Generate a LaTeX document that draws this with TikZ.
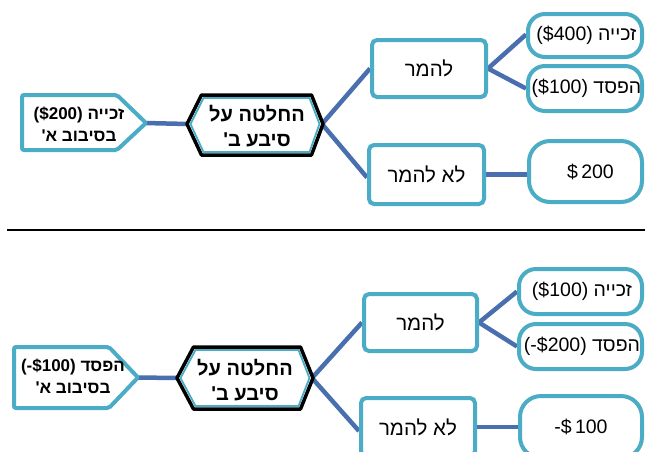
\documentclass[tikz,border=0pt]{standalone}
\usepackage{fontspec}
\setmainfont{Liberation Sans}
\newfontfamily\heb[Script=Hebrew]{Liberation Sans}
\newfontfamily\lat{Liberation Sans}
\TeXXeTstate=1
\usetikzlibrary{backgrounds}
\definecolor{aqua}{HTML}{4BACC6}
\definecolor{linkblue}{HTML}{4A6FAE}
\newcommand{\ltr}[1]{\beginL{\lat #1}\endL}
\tikzset{
  choice/.style={draw=aqua, line width=4pt, fill=white, rounded corners=5pt,
    inner sep=0pt, font=\heb\fontsize{20.5}{24}\selectfont},
  payoff/.style={choice, rounded corners=17pt, font=\heb\fontsize{19.5}{24}\selectfont},
  edge/.style={draw=linkblue, line width=4.5pt},
  startbox/.style={draw=aqua, line width=4pt, fill=white, rounded corners=2pt},
  hexouter/.style={draw=black, line width=3.5pt, fill=white, line join=round},
  hexinner/.style={draw=aqua, line width=1.8pt},
  starttext/.style={align=center, font=\heb\bfseries\fontsize{17}{22}\selectfont},
  hextext/.style={align=center, font=\heb\bfseries\fontsize{20}{25}\selectfont},
  rule/.style={draw=black, line width=2pt}
}
\begin{document}
\begin{tikzpicture}[x=1pt, y=-1pt]
\useasboundingbox (0,0) rectangle (645,451);
\clip (0,0) rectangle (645,451);

% ---------- upper tree: round one won ----------
\draw[startbox] (22,95) -- (117,95) -- (146,123) -- (117,150) -- (22,150) -- cycle;
\coordinate (s1) at (145,123);
\node[starttext] (s1t) at (79,124)
  {\beginR זכייה \ltr{(\$200)}\endR\\\beginR בסיבוב א'\endR};

\draw[hexouter] (187,124) -- (201.5,95) -- (311.5,95) -- (323,124) -- (311.5,155) -- (201.5,155) -- cycle;
\draw[hexinner] (190.5,124) -- (203.5,98) -- (309.5,98) -- (319.5,124) -- (309.5,152) -- (203.5,152) -- cycle;
\coordinate (h1l) at (188,124);
\coordinate (h1r) at (322,124);
\node[hextext] (h1t) at (257,126)
  {\beginR החלטה על\endR\\\beginR סיבע ב'\endR};

\node[choice, minimum width=114pt, minimum height=57pt] (bet1) at (429,68.5) {\beginR להמר\endR};
\node[choice, minimum width=115pt, minimum height=59pt] (nobet1) at (426.5,174.5) {\beginR לא להמר\endR};
\node[payoff, minimum width=114pt, minimum height=43pt] (win1) at (585,35.5)
  {\hspace*{3pt}\beginR זכייה \ltr{(\$400)}\endR};
\node[payoff, minimum width=114pt, minimum height=45pt] (lose1) at (585,88.5)
  {\hspace*{3pt}\beginR הפסד \ltr{(\$100)}\endR};
\node[payoff, rounded corners=21pt, minimum width=113pt, minimum height=61pt] (keep1) at (585.5,171.5)
  {\hspace*{10pt}\lat\$\,200};

\begin{scope}[on background layer]
  \draw[edge] (s1) -- (h1l);
  \draw[edge] (h1r) -- (bet1.west);
  \draw[edge] (h1r) -- ([yshift=-3pt]nobet1.west);
  \draw[edge] (bet1.east) -- ([yshift=1pt]win1.west);
  \draw[edge] (bet1.east) -- (lose1.west);
  \draw[edge] (nobet1.east) -- (nobet1.east -| keep1.west);
\end{scope}

% ---------- separator ----------
\draw[rule] (7,230) -- (645,230);

% ---------- lower tree: round one lost ----------
\draw[startbox] (14,347) -- (109,347) -- (138,377.5) -- (109,408) -- (14,408) -- cycle;
\coordinate (s2) at (137,377.5);
\node[starttext] (s2t) at (73,376)
  {\beginR הפסד \ltr{(-\$100)}\endR\\\beginR בסיבוב א'\endR};

\draw[hexouter] (177,378) -- (193.5,347) -- (300.5,347) -- (313,378) -- (300.5,409) -- (193.5,409) -- cycle;
\draw[hexinner] (180.5,378) -- (195.5,350) -- (298.5,350) -- (309.5,378) -- (298.5,406) -- (195.5,406) -- cycle;
\coordinate (h2l) at (178,378);
\coordinate (h2r) at (312,378);
\node[hextext] (h2t) at (245,380)
  {\beginR החלטה על\endR\\\beginR סיבע ב'\endR};

\node[choice, minimum width=113pt, minimum height=57pt] (bet2) at (420.5,322.5) {\beginR להמר\endR};
\node[choice, minimum width=114pt, minimum height=58pt] (nobet2) at (418,427) {\beginR לא להמר\endR};
\node[payoff, minimum width=123pt, minimum height=45pt] (win2) at (580.5,291.5)
  {\hspace*{3pt}\beginR זכייה \ltr{(\$100)}\endR};
\node[payoff, minimum width=123pt, minimum height=45pt] (lose2) at (580.5,346.5)
  {\hspace*{3pt}\beginR הפסד \ltr{(-\$200)}\endR};
\node[payoff, rounded corners=21pt, minimum width=122pt, minimum height=62pt] (keep2) at (581,427)
  {\lat -\$\,100};

\begin{scope}[on background layer]
  \draw[edge] (s2) -- (h2l);
  \draw[edge] (h2r) -- (bet2.west);
  \draw[edge] (h2r) -- ([yshift=-4pt]nobet2.west);
  \draw[edge] (bet2.east) -- (win2.west);
  \draw[edge] (bet2.east) -- (lose2.west);
  \draw[edge] (nobet2.east) -- (nobet2.east -| keep2.west);
\end{scope}
\end{tikzpicture}
\end{document}
